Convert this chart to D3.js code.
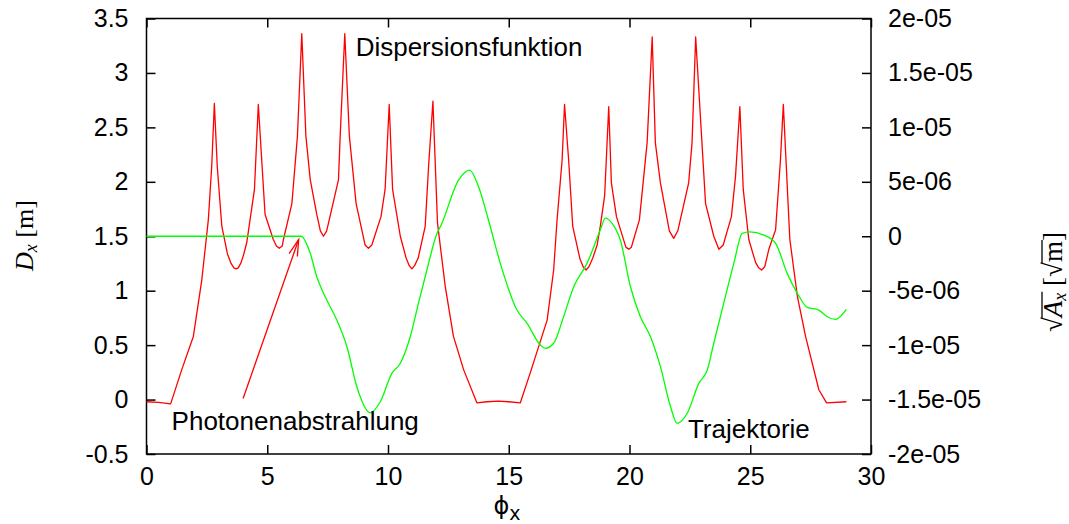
<!DOCTYPE html>
<html>
<head>
<meta charset="utf-8">
<script src="https://cdn.jsdelivr.net/npm/d3@7"></script>
<style>
  html, body { margin: 0; padding: 0; background: #fff; }
  svg { display: block; }
  text { font-family: "Liberation Sans", Arial, sans-serif; }
</style>
</head>
<body>
<svg id="chart" width="1069" height="524"></svg>
<script>
// ---------------- DATA ----------------
// Dispersionsfunktion D_x [m] vs phi_x
const dispX = [0, 0.5, 1.0, 1.46, 1.94, 2.29, 2.56, 2.70, 2.81, 2.93, 3.12, 3.35, 3.50, 3.62, 3.71, 3.80, 3.92, 4.02, 4.15, 4.47, 4.63, 4.91, 5.25, 5.38, 5.50, 5.62, 5.67, 6.02, 6.25, 6.43, 6.60, 6.78, 7.05, 7.20, 7.33, 7.46, 7.62, 7.95, 8.02, 8.21, 8.40, 8.68, 9.05, 9.19, 9.33, 9.71, 9.88, 10.05, 10.19, 10.51, 10.75, 10.88, 10.99, 11.10, 11.25, 11.54, 11.68, 11.86, 12.05, 12.37, 12.71, 13.13, 13.68, 14.10, 14.57, 15.00, 15.48, 15.89, 16.59, 16.86, 17.00, 17.21, 17.31, 17.48, 17.65, 17.95, 18.08, 18.20, 18.32, 18.48, 18.66, 18.79, 18.97, 19.14, 19.25, 19.46, 19.85, 19.97, 20.08, 20.17, 20.41, 20.73, 20.94, 21.07, 21.28, 21.65, 21.83, 22.00, 22.45, 22.59, 22.74, 23.15, 23.49, 23.70, 23.88, 24.22, 24.39, 24.57, 24.71, 24.94, 25.22, 25.35, 25.47, 25.60, 25.77, 26.05, 26.25, 26.37, 26.56, 26.64, 26.95, 27.29, 27.84, 28.16, 28.98];
const dispY = [-0.02, -0.025, -0.04, 0.275, 0.58, 1.10, 1.65, 2.14, 2.72, 2.14, 1.59, 1.34, 1.25, 1.21, 1.20, 1.21, 1.26, 1.33, 1.44, 1.93, 2.71, 1.70, 1.47, 1.41, 1.39, 1.41, 1.47, 1.80, 2.42, 3.36, 2.42, 2.02, 1.70, 1.55, 1.50, 1.55, 1.70, 2.02, 2.42, 3.36, 2.42, 1.80, 1.42, 1.39, 1.42, 1.68, 1.93, 2.71, 1.93, 1.50, 1.30, 1.23, 1.20, 1.23, 1.30, 1.59, 2.14, 2.74, 1.62, 1.04, 0.58, 0.275, -0.03, -0.02, -0.015, -0.02, -0.03, 0.245, 0.73, 1.19, 1.65, 2.20, 2.71, 2.20, 1.59, 1.29, 1.22, 1.19, 1.22, 1.30, 1.42, 1.59, 1.87, 2.69, 1.99, 1.68, 1.40, 1.38, 1.40, 1.47, 1.65, 2.36, 3.33, 2.36, 1.99, 1.55, 1.48, 1.55, 1.99, 2.36, 3.33, 1.80, 1.50, 1.38, 1.42, 1.68, 2.05, 2.69, 1.93, 1.47, 1.26, 1.21, 1.19, 1.22, 1.38, 1.56, 2.20, 2.71, 1.83, 1.47, 0.95, 0.58, 0.09, -0.03, -0.02];

// Trajektorie sqrt(A_x) [sqrt(m)] vs phi_x
const trajX = [0, 3.0, 6.0, 6.40, 6.78, 7.05, 7.40, 7.88, 8.30, 8.71, 9.26, 9.68, 10.16, 10.51, 10.92, 11.26, 11.61, 12.03, 12.20, 12.92, 13.38, 13.75, 14.16, 14.65, 15.34, 15.76, 16.31, 16.51, 16.86, 17.27, 17.69, 18.24, 18.79, 19.00, 19.28, 19.62, 20.04, 20.45, 20.87, 21.28, 21.70, 21.97, 22.39, 22.87, 23.22, 23.49, 23.90, 24.32, 24.67, 24.98, 25.56, 26.05, 26.53, 26.95, 27.36, 27.84, 28.19, 28.53, 28.98];
const trajY = [0, 0, 0, 0, -1.57e-6, -3.72e-6, -5.56e-6, -7.70e-6, -10.15e-6, -13.82e-6, -16.21e-6, -15.20e-6, -12.59e-6, -11.67e-6, -9.23e-6, -6.16e-6, -3.10e-6, 0.27e-6, 1.03e-6, 5.16e-6, 6.08e-6, 4.55e-6, 1.49e-6, -2.49e-6, -6.78e-6, -8.00e-6, -9.99e-6, -10.29e-6, -9.83e-6, -7.39e-6, -4.64e-6, -2.49e-6, 0.57e-6, 1.67e-6, 1.18e-6, -0.35e-6, -4.64e-6, -7.39e-6, -9.23e-6, -11.98e-6, -15.66e-6, -17.18e-6, -16.26e-6, -13.51e-6, -12.29e-6, -9.83e-6, -6.16e-6, -2.49e-6, 0.27e-6, 0.41e-6, 0.11e-6, -0.65e-6, -3.41e-6, -5.24e-6, -6.53e-6, -6.78e-6, -7.39e-6, -7.63e-6, -6.71e-6];

// Axis ticks
const xTicks = [0, 5, 10, 15, 20, 25, 30];
const yLeftTicks = [-0.5, 0, 0.5, 1, 1.5, 2, 2.5, 3, 3.5];
const yLeftLabels = ["-0.5", "0", "0.5", "1", "1.5", "2", "2.5", "3", "3.5"];
const yRightTicks = [-2e-5, -1.5e-5, -1e-5, -5e-6, 0, 5e-6, 1e-5, 1.5e-5, 2e-5];
const yRightLabels = ["-2e-05", "-1.5e-05", "-1e-05", "-5e-06", "0", "5e-06", "1e-05", "1.5e-05", "2e-05"];

// Annotations (data coordinates, left axis)
const labelTexts = ["Dispersionsfunktion", "Photonenabstrahlung", "Trajektorie"];
const labelX = [8.66, 1.04, 22.42];
const labelY = [3.156, -0.28, -0.356];
const arrowFrom = [4.0, 0.01];
const arrowTo = [6.3, 1.47];

// ---------------- CHART ----------------
const svg = d3.select("#chart");
const L = 146.5, R = 871, T = 18.5, B = 454;

const x = d3.scaleLinear().domain([0, 30]).range([L, R]);
const y = d3.scaleLinear().domain([-0.5, 3.5]).range([B, T]);
const y2 = d3.scaleLinear().domain([-2e-5, 2e-5]).range([B, T]);

const tickLen = 9;
const fs = 25;

// Frame
svg.append("rect").attr("x", L).attr("y", T).attr("width", R - L).attr("height", B - T)
  .attr("fill", "none").attr("stroke", "#000").attr("stroke-width", 1.5);

// Bottom axis (ticks inward) + mirrored top ticks
const gx = svg.append("g").attr("transform", `translate(0,${B})`)
  .call(d3.axisBottom(x).tickValues(xTicks).tickSize(-tickLen).tickPadding(13).tickFormat(d3.format("d")));
const gxTop = svg.append("g").attr("transform", `translate(0,${T})`)
  .call(d3.axisTop(x).tickValues(xTicks).tickSize(-tickLen).tickFormat(""));
// Left axis
const gy = svg.append("g").attr("transform", `translate(${L},0)`)
  .call(d3.axisLeft(y).tickValues(yLeftTicks).tickSize(-tickLen).tickPadding(18)
    .tickFormat((d, i) => yLeftLabels[i]));
// Right axis
const gy2 = svg.append("g").attr("transform", `translate(${R},0)`)
  .call(d3.axisRight(y2).tickValues(yRightTicks).tickSize(-tickLen).tickPadding(17)
    .tickFormat((d, i) => yRightLabels[i]));

[gx, gxTop, gy, gy2].forEach(g => {
  g.select(".domain").remove();
  g.selectAll(".tick line").attr("stroke", "#000").attr("stroke-width", 1.5);
  g.selectAll(".tick text").attr("fill", "#000")
    .style("font-family", '"Liberation Sans", Arial, sans-serif').style("font-size", fs + "px");
});
gx.selectAll(".tick text").attr("dy", "0.71em");

// Curves
const dispData = dispX.map((d, i) => [d, dispY[i]]);
const trajData = trajX.map((d, i) => [d, trajY[i]]);

svg.append("path").datum(dispData)
  .attr("fill", "none").attr("stroke", "#ff0000").attr("stroke-width", 1.3)
  .attr("stroke-linejoin", "round")
  .attr("d", d3.line().x(d => x(d[0])).y(d => y(d[1])).curve(d3.curveLinear));

svg.append("path").datum(trajData)
  .attr("fill", "none").attr("stroke", "#00ff00").attr("stroke-width", 1.3)
  .attr("d", d3.line().x(d => x(d[0])).y(d => y2(d[1])).curve(d3.curveMonotoneX));

// Arrow
const ax0 = x(arrowFrom[0]), ay0 = y(arrowFrom[1]);
const ax1 = x(arrowTo[0]), ay1 = y(arrowTo[1]);
const ang = Math.atan2(ay1 - ay0, ax1 - ax0);
const headL = 17, headA = 15 * Math.PI / 180;
svg.append("line").attr("x1", ax0).attr("y1", ay0).attr("x2", ax1).attr("y2", ay1)
  .attr("stroke", "#ff0000").attr("stroke-width", 1.3);
svg.append("path")
  .attr("d", `M${ax1 - headL * Math.cos(ang - headA)},${ay1 - headL * Math.sin(ang - headA)}L${ax1},${ay1}L${ax1 - headL * Math.cos(ang + headA)},${ay1 - headL * Math.sin(ang + headA)}`)
  .attr("fill", "none").attr("stroke", "#ff0000").attr("stroke-width", 1.3);

// Labels
labelTexts.forEach((t, i) => {
  svg.append("text").attr("x", x(labelX[i])).attr("y", y(labelY[i]))
    .attr("font-size", 26).attr("fill", "#000").text(t);
});

// X axis title: phi_x
const xt = svg.append("text").attr("x", 507).attr("y", 514).attr("text-anchor", "middle")
  .attr("fill", "#000").style("font-family", '"DejaVu Sans", sans-serif');
xt.append("tspan").attr("font-size", 24).text("ϕ");
xt.append("tspan").attr("font-size", 19).attr("dy", 6).text("x");

// Left title: D_x [m]
const lt = svg.append("text").attr("transform", "translate(33,271) rotate(-90)")
  .attr("fill", "#000").style("font-family", '"Liberation Serif", "DejaVu Serif", serif').attr("font-size", 26);
lt.append("tspan").attr("font-style", "italic").text("D");
lt.append("tspan").attr("font-style", "italic").attr("font-size", 18).attr("dy", 4).text("x");
lt.append("tspan").attr("dy", -4).text(" [m]");

// Right title: sqrt(A_x) [sqrt(m)] with drawn radical bars
const rt = svg.append("g").attr("transform", "translate(1062,332) rotate(-90)");
const rtext = rt.append("text").attr("fill", "#000")
  .style("font-family", '"Liberation Serif", "DejaVu Serif", serif').attr("font-size", 27);
const s1 = rtext.append("tspan").text("√");
const a1 = rtext.append("tspan").attr("font-style", "italic").text("A");
const a2 = rtext.append("tspan").attr("font-style", "italic").attr("font-size", 18).attr("dy", 4).text("x");
const b1 = rtext.append("tspan").attr("dy", -4).text(" [√");
const m1 = rtext.append("tspan").text("m");
rtext.append("tspan").text("]");
// overline bars over radicands, measured from the rendered glyphs
const tnode = rtext.node();
function barOver(startIdx, endIdx) {
  const p0 = tnode.getStartPositionOfChar(startIdx);
  const p1 = tnode.getEndPositionOfChar(endIdx);
  rt.append("line").attr("x1", p0.x - 1).attr("x2", p1.x + 1).attr("y1", -20).attr("y2", -20)
    .attr("stroke", "#000").attr("stroke-width", 1.3);
}
// characters: 0 √, 1 A, 2 x, 3 ' ', 4 '[', 5 √, 6 m, 7 ]
barOver(1, 2);
barOver(6, 6);
</script>
</body>
</html>
